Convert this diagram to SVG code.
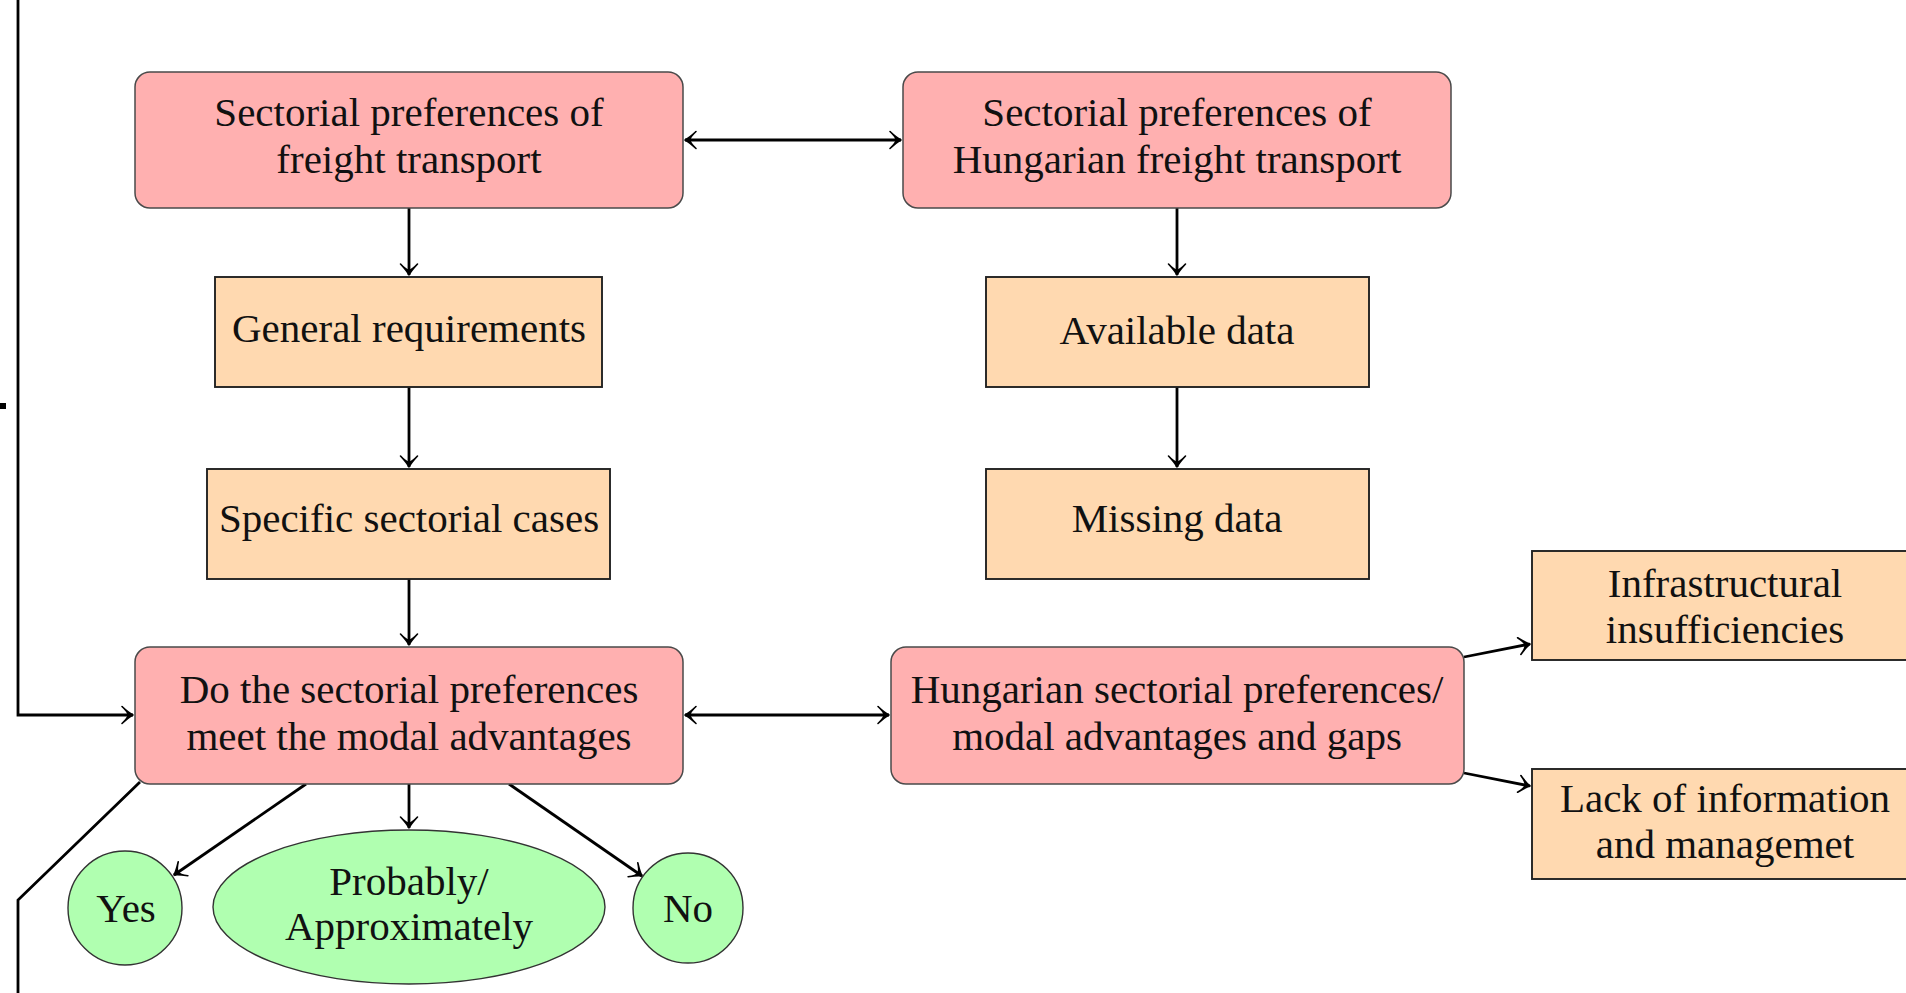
<svg xmlns="http://www.w3.org/2000/svg" width="1906" height="993" viewBox="0 0 1906 993">
<style>
.pink{fill:#ffb0b0;stroke:#4a4a4a;stroke-width:1.5}
.orange{fill:#ffd9b0;stroke:#222;stroke-width:1.9}
.green{fill:#b0ffb0;stroke:#333;stroke-width:1.4}
.t{font-family:'Liberation Serif','DejaVu Serif',serif;font-size:41px;fill:#111;text-anchor:middle}
.c{fill:none;stroke:#000;stroke-width:2.8}
</style>
<defs>
<marker id="arr" viewBox="-14 -11 16 22" refX="0" refY="0" markerWidth="16" markerHeight="22" markerUnits="userSpaceOnUse" orient="auto-start-reverse">
<path d="M-11,-8.5 Q-4,-2 0,0 Q-4,2 -11,8.5 Q-5,3 -5,0 Q-5,-3 -11,-8.5 Z" fill="#000" stroke="#000" stroke-width="1.6" stroke-linejoin="round"/>
</marker>
</defs>
<rect width="1906" height="993" fill="#fff"/>
<g id="connectors">
<path class="c" d="M18,0 L18,715 L133,715" marker-end="url(#arr)"/>
<path class="c" d="M140,782 L18,900 L18,993"/>
<rect x="0" y="403" width="6" height="6" fill="#000"/>
<path class="c" d="M685,140 L901,140" marker-start="url(#arr)" marker-end="url(#arr)"/>
<path class="c" d="M685,715 L889,715" marker-start="url(#arr)" marker-end="url(#arr)"/>
<path class="c" d="M409,208 L409,275" marker-end="url(#arr)"/>
<path class="c" d="M409,387 L409,467" marker-end="url(#arr)"/>
<path class="c" d="M409,579 L409,645" marker-end="url(#arr)"/>
<path class="c" d="M1177,208 L1177,275" marker-end="url(#arr)"/>
<path class="c" d="M1177,387 L1177,467" marker-end="url(#arr)"/>
<path class="c" d="M306,784 L174,875" marker-end="url(#arr)"/>
<path class="c" d="M409,784 L409,828" marker-end="url(#arr)"/>
<path class="c" d="M509,784 L642,876" marker-end="url(#arr)"/>
<path class="c" d="M1464,657 L1530,644" marker-end="url(#arr)"/>
<path class="c" d="M1464,773 L1530,786" marker-end="url(#arr)"/>
</g>
<g id="n1"><rect class="pink" x="135" y="72" width="548" height="136" rx="15"/>
<text class="t" x="409" y="126">Sectorial preferences of</text><text class="t" x="409" y="173">freight transport</text></g>
<g id="n2"><rect class="pink" x="903" y="72" width="548" height="136" rx="15"/>
<text class="t" x="1177" y="126">Sectorial preferences of</text><text class="t" x="1177" y="173">Hungarian freight transport</text></g>
<g id="n3"><rect class="orange" x="215" y="277" width="387" height="110"/>
<text class="t" x="409" y="342">General requirements</text></g>
<g id="n4"><rect class="orange" x="986" y="277" width="383" height="110"/>
<text class="t" x="1177" y="344">Available data</text></g>
<g id="n5"><rect class="orange" x="207" y="469" width="403" height="110"/>
<text class="t" x="409" y="532">Specific sectorial cases</text></g>
<g id="n6"><rect class="orange" x="986" y="469" width="383" height="110"/>
<text class="t" x="1177" y="532">Missing data</text></g>
<g id="n7"><rect class="pink" x="135" y="647" width="548" height="137" rx="15"/>
<text class="t" x="409" y="703">Do the sectorial preferences</text><text class="t" x="409" y="750">meet the modal advantages</text></g>
<g id="n8"><rect class="pink" x="891" y="647" width="573" height="137" rx="15"/>
<text class="t" x="1177" y="703">Hungarian sectorial preferences/</text><text class="t" x="1177" y="750">modal advantages and gaps</text></g>
<g id="n9"><rect class="orange" x="1532" y="551" width="390" height="109"/>
<text class="t" x="1725" y="597">Infrastructural</text><text class="t" x="1725" y="643">insufficiencies</text></g>
<g id="n10"><rect class="orange" x="1532" y="769" width="390" height="110"/>
<text class="t" x="1725" y="812">Lack of information</text><text class="t" x="1725" y="858">and managemet</text></g>
<g id="n11"><circle class="green" cx="125" cy="908" r="57"/>
<text class="t" x="126" y="922">Yes</text></g>
<g id="n12"><ellipse class="green" cx="409" cy="907" rx="196" ry="77"/>
<text class="t" x="409" y="895">Probably/</text><text class="t" x="409" y="940">Approximately</text></g>
<g id="n13"><circle class="green" cx="688" cy="908" r="55"/>
<text class="t" x="688" y="922">No</text></g>
</svg>
